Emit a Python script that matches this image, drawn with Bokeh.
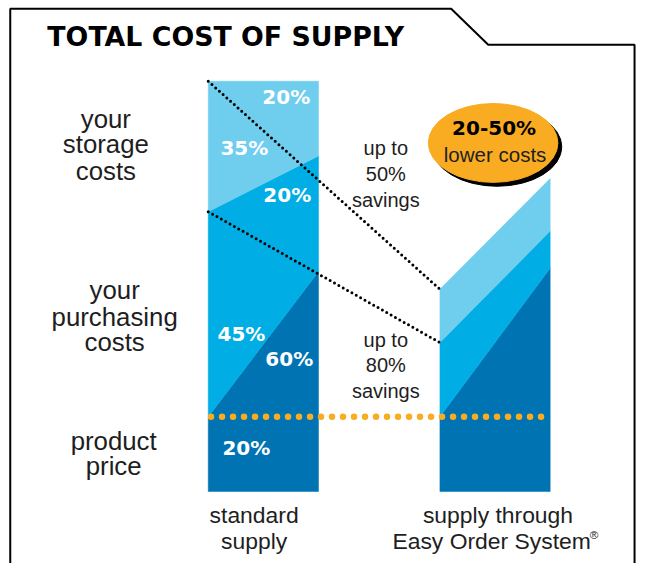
from bokeh.plotting import figure
from bokeh.models import Range1d, ColumnDataSource
from bokeh.core.properties import value
from bokeh.embed import file_html
from bokeh.resources import INLINE

# ---------------- data (% of standard total cost) ----------------
categories = ["standard supply", "supply through Easy Order System®"]
layers = ["product price", "purchasing costs", "storage costs"]
# cumulative tops of each layer at the left / right edge of each bar
std_left_tops = [18.2, 68.2, 100.0]
std_right_tops = [53.6, 81.8, 100.0]
eos_left_tops = [18.2, 36.3, 49.3]
eos_right_tops = [54.5, 63.5, 76.3]
# percentage labels printed on the standard bar
pct_labels = ["20%", "35%", "20%", "45%", "60%", "20%"]
badge_main = "20-50%"
badge_sub = "lower costs"
savings_storage = ["up to", "50%", "savings"]
savings_purchasing = ["up to", "80%", "savings"]

# ---------------- styling ----------------
LIGHT = "#6FCDEE"
MED = "#00ADE5"
DARK = "#0074B3"
ORANGE = "#F9AB22"
INK = "#1E1E1E"
layer_colors = [DARK, MED, LIGHT]

W, H = 636, 563
S = 0.974          # figure size / reference size
BAR_HW = 0.238


def fs(px):
    return "%.1fpx" % (px * S)


# helpers to place annotations (reference pixel -> data)
def X(px):
    return (px - 269.5) / 237.5


def Y(py):
    return (505 - py) / 4.22


p = figure(width=W, height=H, output_backend="svg", toolbar_location=None,
           x_range=Range1d(X(0), X(652)), y_range=Range1d(Y(579), Y(0)),
           x_axis_location=None, y_axis_location=None,
           min_border=0, min_border_left=0, min_border_right=0,
           min_border_top=0, min_border_bottom=0)
p.grid.visible = False
p.outline_line_color = None
p.background_fill_color = "white"
p.border_fill_color = "white"

# ---------------- stacked wedge bars ----------------
xs, ys, cols = [], [], []
bars = [(0, std_left_tops, std_right_tops), (1, eos_left_tops, eos_right_tops)]
for c, lt, rt in bars:
    lb = [0.0] + lt[:-1]
    rb = [0.0] + rt[:-1]
    for j in range(len(layers)):
        xs.append([c - BAR_HW, c + BAR_HW, c + BAR_HW, c - BAR_HW])
        ys.append([lb[j], rb[j], rt[j], lt[j]])
        cols.append(layer_colors[j])
src = ColumnDataSource(dict(xs=xs, ys=ys, color=cols))
p.patches("xs", "ys", source=src, fill_color="color", line_color="color", line_width=0.5)

# ---------------- dotted connectors ----------------
p.line(x=[0 - BAR_HW, 1 - BAR_HW], y=[std_left_tops[2], eos_left_tops[2]],
       line_color="black", line_width=3, line_dash="0 5", line_cap="round")
p.line(x=[0 - BAR_HW, 1 - BAR_HW], y=[std_left_tops[1], eos_left_tops[1]],
       line_color="black", line_width=3, line_dash="0 5", line_cap="round")
p.line(x=[0 - BAR_HW + 0.012, 1 + BAR_HW], y=[std_left_tops[0], eos_left_tops[0]],
       line_color=ORANGE, line_width=6.5, line_dash="0 11", line_cap="round")

# ---------------- frame ----------------
p.line(x=[X(10), X(10), X(462), X(500), X(650), X(650)],
       y=[Y(600), Y(8.5), Y(8.5), Y(45.5), Y(45.5), Y(600)],
       line_color="black", line_width=2)

# ---------------- title ----------------
p.text(x=[X(48)], y=[Y(37)], text=["TOTAL COST OF SUPPLY"],
       text_font=value("DejaVu Sans"), text_font_style="bold", text_font_size=fs(27.5),
       text_align="left", text_baseline="middle", text_color="black")

# ---------------- percentage labels ----------------
p.text(x=[X(293), X(250), X(294), X(247), X(296), X(252)],
       y=[Y(99), Y(152), Y(200), Y(343), Y(369), Y(460)],
       text=pct_labels, text_font=value("DejaVu Sans"), text_font_style="bold",
       text_font_size=fs(20.5), text_align="center", text_baseline="middle",
       text_color="white")


def lines(texts, cx, cys, size, align="center"):
    p.text(x=[X(cx)] * len(texts), y=[Y(v) for v in cys], text=texts,
           text_font=value("Liberation Sans"), text_font_size=fs(size),
           text_align=align, text_baseline="middle", text_color=INK)


# left side captions (layer names)
lines(["your", "storage", "costs"], 108, [122, 148, 175], 26.5)
lines(["your", "purchasing", "costs"], 117, [298, 325, 351], 26.5)
lines(["product", "price"], 116, [453, 479], 26.5)

# savings captions
lines(savings_storage, 395, [152, 178, 205], 20.5)
lines(savings_purchasing, 395, [349, 375, 402], 20.5)

# category captions
lines(["standard", "supply"], 260, [529, 556], 23.5)
lines(["supply through"], 510, [529], 23.5)
lines(["Easy Order System"], 503.5, [556], 23.5)
lines(["®"], 604, [549], 12, align="left")

# ---------------- badge ----------------
p.ellipse(x=[X(509)], y=[Y(150.5)], width=133 * S, height=81 * S,
          width_units="screen", height_units="screen",
          fill_color="black", line_color="black")
p.ellipse(x=[X(505)], y=[Y(146.5)], width=133 * S, height=81 * S,
          width_units="screen", height_units="screen",
          fill_color=ORANGE, line_color=ORANGE)
p.text(x=[X(506)], y=[Y(131.5)], text=[badge_main], text_font=value("DejaVu Sans"),
       text_font_style="bold", text_font_size=fs(20.5), text_align="center",
       text_baseline="middle", text_color="black")
p.text(x=[X(507)], y=[Y(158)], text=[badge_sub], text_font=value("Liberation Sans"),
       text_font_size=fs(21), text_align="center", text_baseline="middle",
       text_color=INK)

open("out.html", "w").write(file_html(p, INLINE))
